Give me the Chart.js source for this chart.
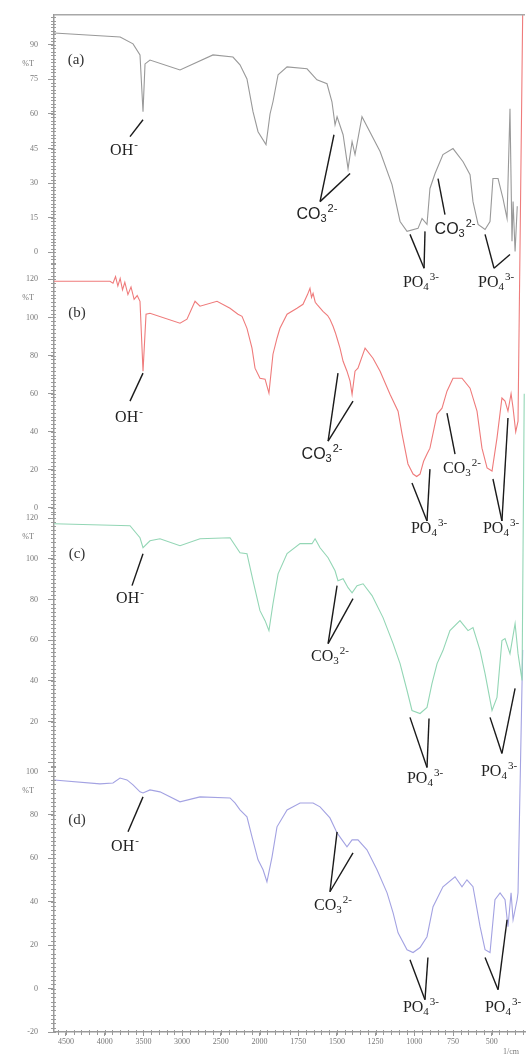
<!DOCTYPE html>
<html>
<head>
<meta charset="utf-8">
<script src="https://cdn.jsdelivr.net/npm/chart.js@4.4.0/dist/chart.umd.min.js"></script>
<style>
  html, body { margin: 0; padding: 0; background: #fff; }
</style>
</head>
<body>
<canvas id="myChart" width="527" height="1055"></canvas>
<script>
// wavenumber axis (cm-1): 500 per step down to 2000, then 250 per step
var tickLabels = ["4500", "4000", "3500", "3000", "2500", "2000", "1750", "1500", "1250", "1000", "750", "500"];
var panelNames = ["(a)", "(b)", "(c)", "(d)"];
var yUnit = "%T";
var xUnit = "1/cm";

// (a) gray
var waveA = [4655, 3800, 3634, 3544, 3505, 3479, 3415, 3027, 2601, 2343, 2252, 2162, 2084, 2019, 1958, 1932, 1913, 1880, 1822, 1693, 1629, 1564, 1532, 1512, 1499, 1460, 1428, 1402, 1383, 1338, 1221, 1144, 1092, 1047, 976, 950, 918, 899, 866, 815, 750, 685, 640, 621, 588, 543, 511, 492, 459, 427, 401, 382, 369, 362, 349, 335];
var transA = [95.1, 93.4, 90.4, 85.6, 61.0, 81.7, 83.4, 79.1, 85.6, 84.7, 81.3, 75.2, 61.0, 52.3, 46.7, 60.0, 65.3, 77.0, 80.4, 79.6, 74.8, 73.1, 65.3, 55.3, 58.8, 51.0, 36.3, 48.0, 42.4, 58.8, 43.7, 29.4, 13.4, 9.1, 10.4, 14.7, 12.1, 27.7, 34.2, 42.4, 45.0, 39.3, 33.7, 22.0, 12.1, 9.9, 13.4, 32.0, 32.0, 23.3, 14.7, 62.3, 4.8, 22.0, 0.4, 20];

// (b) red
var waveB = [4655, 3932, 3893, 3860, 3830, 3800, 3770, 3740, 3700, 3660, 3620, 3580, 3544, 3505, 3466, 3415, 3027, 2937, 2833, 2769, 2549, 2381, 2278, 2226, 2162, 2097, 2058, 1997, 1964, 1939, 1913, 1887, 1868, 1822, 1758, 1719, 1690, 1674, 1664, 1654, 1640, 1629, 1590, 1560, 1545, 1525, 1510, 1499, 1480, 1460, 1435, 1415, 1402, 1383, 1364, 1318, 1267, 1221, 1157, 1105, 1079, 1041, 1008, 985, 963, 940, 918, 899, 853, 821, 789, 750, 692, 640, 595, 563, 530, 498, 466, 434, 414, 395, 375, 362, 345, 330, 300];
var transB = [119.0, 119.0, 118.0, 121.5, 116.5, 120.5, 114.5, 118.5, 112.0, 116.0, 109.5, 111.5, 108.5, 71.8, 101.7, 102.2, 97.0, 99.1, 108.5, 105.9, 108.5, 104.8, 101.7, 100.6, 94.3, 83.9, 73.4, 68.1, 67.6, 60.3, 80.7, 89.1, 94.3, 101.7, 104.8, 106.9, 112.0, 115.3, 110.5, 112.7, 108.0, 106.9, 103.2, 101.0, 99.1, 95.4, 92.0, 89.1, 83.9, 77.0, 71.8, 66.6, 59.7, 71.8, 73.4, 83.9, 78.6, 71.8, 59.7, 50.8, 38.8, 23.1, 17.8, 16.5, 17.8, 24.5, 28.3, 31.4, 49.3, 52.4, 61.3, 68.1, 68.1, 62.9, 50.8, 31.4, 21.0, 19.4, 36.7, 57.7, 56.1, 50.8, 60.0, 52.4, 40.0, 45.6, 259];

// (c) green
var waveC = [4655, 3673, 3544, 3505, 3415, 3286, 3027, 2769, 2381, 2252, 2162, 2084, 1997, 1964, 1939, 1913, 1880, 1822, 1738, 1661, 1641, 1609, 1557, 1512, 1493, 1460, 1428, 1402, 1370, 1331, 1273, 1202, 1137, 1092, 1047, 1015, 963, 918, 886, 853, 815, 770, 705, 653, 621, 575, 543, 498, 466, 434, 414, 382, 349, 330, 304, 290];
var transC = [117.2, 116.2, 110.3, 105.4, 108.8, 109.8, 106.4, 109.8, 110.3, 102.9, 102.5, 89.2, 74.5, 69.6, 64.7, 77.9, 92.6, 102.5, 107.4, 107.4, 109.8, 105.4, 100.5, 94.1, 89.2, 90.2, 85.8, 83.3, 86.8, 87.7, 81.9, 71.1, 58.3, 48.5, 35.3, 25.5, 24.0, 27.0, 38.7, 48.5, 54.9, 64.7, 69.6, 64.7, 66.2, 54.9, 43.6, 25.5, 31.9, 59.8, 60.8, 53.4, 68.1, 53.4, 40.2, 181];

// (d) blue
var waveD = [4655, 4061, 3893, 3802, 3712, 3634, 3544, 3505, 3415, 3286, 3027, 2769, 2381, 2317, 2252, 2162, 2097, 2019, 1977, 1952, 1919, 1887, 1822, 1738, 1654, 1609, 1545, 1499, 1467, 1435, 1402, 1364, 1306, 1241, 1176, 1137, 1105, 1047, 1008, 963, 918, 879, 815, 737, 692, 660, 621, 575, 543, 511, 479, 446, 414, 395, 375, 362, 336, 330, 300];
var transD = [96.1, 94.3, 94.7, 97.0, 96.1, 93.8, 90.6, 90.1, 91.5, 90.6, 86.0, 88.3, 87.8, 85.5, 82.3, 79.1, 69.9, 59.3, 54.7, 49.2, 60.7, 74.5, 82.3, 85.5, 85.5, 83.7, 78.6, 71.7, 68.5, 65.3, 68.5, 68.5, 63.9, 54.7, 44.1, 34.9, 25.7, 17.9, 16.6, 18.9, 23.9, 37.7, 46.9, 51.5, 46.9, 50.1, 46.9, 28.5, 17.9, 16.6, 40.9, 44.1, 40.9, 28.5, 44.1, 31.7, 40.9, 44.1, 156];

// band labels: text spot and leader lines, in (wavenumber, %T) of their panel
var OH = { base: "OH", sup: "-" };
var CO3 = { base: "CO", sub: "3", sup: "2-" };
var PO4 = { base: "PO", sub: "4", sup: "3-" };
var notes = [
  { axis: "yA", ion: OH, at: [3751, 44.5], lines: [[3673, 50.2, 3505, 57.5]] },
  { axis: "yA", ion: CO3, sans: true, at: [1629, 16.9], lines: [[1609, 22.0, 1519, 51.0], [1609, 22.0, 1415, 34.2]] },
  { axis: "yA", ion: CO3, sans: true, at: [737, 10.4], lines: [[802, 16.4, 847, 32.0]] },
  { axis: "yA", ion: PO4, at: [957, -12.5], lines: [[1028, 7.8, 937, -6.9], [931, 9.1, 937, -6.9]] },
  { axis: "yA", ion: PO4, at: [472, -12.5], lines: [[543, 7.8, 485, -6.9], [382, -0.9, 485, -6.9]] },
  { axis: "yB", ion: OH, at: [3686, 48.2], lines: [[3673, 56.1, 3505, 70.8]] },
  { axis: "yB", ion: CO3, sans: true, at: [1596, 28.8], lines: [[1557, 35.1, 1493, 70.8], [1557, 35.1, 1396, 56.1]] },
  { axis: "yB", ion: CO3, at: [692, 21.0], lines: [[737, 28.3, 789, 49.8]] },
  { axis: "yB", ion: PO4, at: [905, -10.5], lines: [[1015, 13.1, 918, -6.8], [899, 20.4, 918, -6.8]] },
  { axis: "yB", ion: PO4, at: [440, -10.5], lines: [[492, 15.2, 434, -6.8], [395, 47.2, 434, -6.8]] },
  { axis: "yC", ion: OH, at: [3673, 80.9], lines: [[3647, 86.8, 3505, 102.5]] },
  { axis: "yC", ion: CO3, at: [1545, 52.5], lines: [[1557, 58.3, 1499, 86.8], [1557, 58.3, 1396, 80.4]] },
  { axis: "yC", ion: PO4, at: [931, -7.4], lines: [[1028, 22.1, 918, -2.5], [905, 21.6, 918, -2.5]] },
  { axis: "yC", ion: PO4, at: [453, -3.9], lines: [[511, 22.1, 434, 4.4], [349, 36.3, 434, 4.4]] },
  { axis: "yD", ion: OH, at: [3738, 65.7], lines: [[3699, 72.2, 3505, 88.3]] },
  { axis: "yD", ion: CO3, at: [1525, 38.6], lines: [[1545, 44.6, 1499, 72.2], [1545, 44.6, 1396, 62.5]] },
  { axis: "yD", ion: PO4, at: [957, -8.3], lines: [[1028, 13.3, 931, -5.1], [912, 14.3, 931, -5.1]] },
  { axis: "yD", ion: PO4, at: [427, -8.3], lines: [[543, 14.3, 459, -0.5], [401, 31.7, 459, -0.5]] }
];
var nameSpots = [[4371, 83.4], [4358, 102.2], [4358, 102.5], [4358, 77.7]];
var axisIds = ["yA", "yB", "yC", "yD"];

// wavenumber -> position on the split axis (one unit per labelled step)
function toPos(w) {
  return w >= 2000 ? (4500 - w) / 500 : 5 + (2000 - w) / 250;
}

function makeSet(waves, trans, color, axis) {
  return {
    data: waves.map(function (w, i) { return { x: toPos(w), y: trans[i] }; }),
    borderColor: color,
    borderWidth: 1.1,
    pointRadius: 0,
    tension: 0,
    fill: false,
    clip: false,
    yAxisID: axis
  };
}

var grey = '#9a9a9a';
var tickFont = { family: 'Liberation Serif', size: 8 };

function yAxis(min, max, step, weight, hideZero) {
  return {
    type: 'linear',
    position: 'left',
    stack: 'spectra',
    stackWeight: weight,
    min: min,
    max: max,
    grid: { drawOnChartArea: false, tickLength: 6, color: grey },
    border: { color: grey, width: 1.5 },
    ticks: {
      stepSize: step,
      includeBounds: false,
      font: tickFont,
      color: '#777',
      padding: 10,
      callback: function (v) { return (hideZero && v === 0) ? '' : v; }
    },
    afterFit: function (s) { s.width = 54; }
  };
}

function drawIon(ctx, ion, sans, cx, cy) {
  var fam = sans ? '"Liberation Sans"' : '"Liberation Serif"';
  var big = '16px ' + fam, small = '11px ' + fam;
  ctx.font = big;
  var w1 = ctx.measureText(ion.base).width;
  ctx.font = small;
  var w2 = ion.sub ? ctx.measureText(ion.sub).width : 0;
  var w3 = ion.sup ? ctx.measureText(ion.sup).width : 0;
  var x = cx - (w1 + w2 + w3 + 1) / 2;
  var base = cy + 5.5;
  ctx.textAlign = 'left';
  ctx.textBaseline = 'alphabetic';
  ctx.font = big;
  ctx.fillText(ion.base, x, base);
  ctx.font = small;
  if (ion.sub) ctx.fillText(ion.sub, x + w1, base + 3);
  if (ion.sup) ctx.fillText(ion.sup, x + w1 + w2 + 1, base - 7);
}

var extras = {
  id: 'extras',
  afterDraw: function (chart) {
    var ctx = chart.ctx, area = chart.chartArea, xs = chart.scales.x;
    ctx.save();
    // top frame line
    ctx.strokeStyle = '#a8a8a8';
    ctx.lineWidth = 1.5;
    ctx.beginPath();
    ctx.moveTo(area.left, area.top);
    ctx.lineTo(area.right, area.top);
    ctx.stroke();

    // minor ticks
    ctx.strokeStyle = grey;
    ctx.lineWidth = 1;
    ctx.beginPath();
    axisIds.forEach(function (id) {
      var s = chart.scales[id];
      var minor = s.options.ticks.stepSize / 10;
      var xl = s.right;
      for (var v = Math.ceil(s.min / minor) * minor; v <= s.max; v += minor) {
        var py = Math.round(s.getPixelForValue(v)) + 0.5;
        ctx.moveTo(xl - 3, py);
        ctx.lineTo(xl + 2, py);
      }
    });
    for (var p = Math.ceil(xs.min * 5) / 5; p <= xs.max; p += 0.2) {
      var px = Math.round(xs.getPixelForValue(p)) + 0.5;
      ctx.moveTo(px, area.bottom - 2);
      ctx.lineTo(px, area.bottom + 3);
    }
    ctx.stroke();

    // unit labels
    ctx.fillStyle = '#777';
    ctx.font = '8px "Liberation Serif"';
    ctx.textAlign = 'center';
    ctx.textBaseline = 'middle';
    axisIds.forEach(function (id) {
      var s = chart.scales[id];
      var top = s.ticks[s.ticks.length - 1].value;
      ctx.fillText(yUnit, 28, s.getPixelForValue(top) + 19);
    });
    ctx.fillText(xUnit, area.right - 14, area.bottom + 20);

    // panel names
    ctx.fillStyle = '#333';
    ctx.font = '15px "Liberation Serif"';
    panelNames.forEach(function (n, i) {
      var s = chart.scales[axisIds[i]];
      ctx.fillText(n, xs.getPixelForValue(toPos(nameSpots[i][0])), s.getPixelForValue(nameSpots[i][1]));
    });

    // band labels with leader lines
    ctx.strokeStyle = '#1a1a1a';
    ctx.lineWidth = 1.4;
    notes.forEach(function (n) {
      var s = chart.scales[n.axis];
      n.lines.forEach(function (l) {
        ctx.beginPath();
        ctx.moveTo(xs.getPixelForValue(toPos(l[0])), s.getPixelForValue(l[1]));
        ctx.lineTo(xs.getPixelForValue(toPos(l[2])), s.getPixelForValue(l[3]));
        ctx.stroke();
      });
      ctx.fillStyle = '#222';
      drawIon(ctx, n.ion, n.sans, xs.getPixelForValue(toPos(n.at[0])), s.getPixelForValue(n.at[1]));
    });
    ctx.restore();
  }
};

var ctx = document.getElementById('myChart').getContext('2d');
var myChart = new Chart(ctx, {
  type: 'line',
  data: {
    datasets: [
      makeSet(waveA, transA, '#999999', 'yA'),
      makeSet(waveB, transB, '#ef7b7b', 'yB'),
      makeSet(waveC, transC, '#93d6b5', 'yC'),
      makeSet(waveD, transD, '#a3a2e2', 'yD')
    ]
  },
  options: {
    responsive: false,
    animation: false,
    layout: { padding: { top: 13, right: 2, left: 0, bottom: 0 } },
    plugins: { legend: { display: false }, tooltip: { enabled: false } },
    scales: {
      x: {
        type: 'linear',
        min: toPos(4655),
        max: toPos(285),
        grid: { drawOnChartArea: false, tickLength: 4, color: grey },
        border: { color: grey, width: 1.5 },
        ticks: {
          stepSize: 1,
          includeBounds: false,
          maxTicksLimit: 30,
          autoSkip: false,
          maxRotation: 0,
          font: tickFont,
          color: '#777',
          padding: 1,
          callback: function (v) {
            var i = Math.round(v);
            return (Math.abs(v - i) < 1e-6 && tickLabels[i] !== undefined) ? tickLabels[i] : '';
          }
        },
        afterFit: function (s) { s.height = 23; }
      },
      yD: yAxis(-20, 102.3, 20, 266),
      yC: yAxis(-2, 122.5, 20, 254, true),
      yB: yAxis(-2.6, 128.4, 20, 250),
      yA: yAxis(-4.76, 103, 15, 249)
    }
  },
  plugins: [extras]
});
</script>
</body>
</html>
